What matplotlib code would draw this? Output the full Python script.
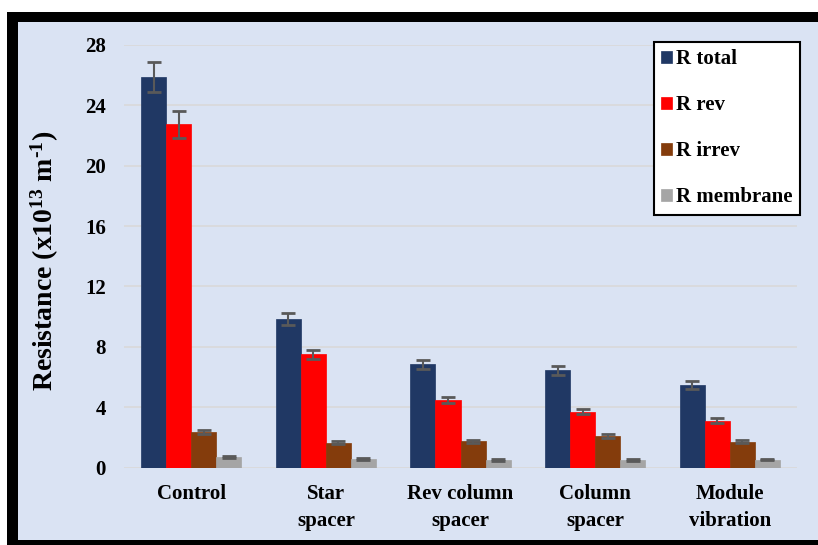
import matplotlib.pyplot as plt
from matplotlib.patches import Rectangle
import numpy as np

categories = ['Control', 'Star\nspacer', 'Rev column\nspacer', 'Column\nspacer', 'Module\nvibration']
series = ['R total', 'R rev', 'R irrev', 'R membrane']
r_total = [25.9, 9.85, 6.85, 6.45, 5.45]
r_rev = [22.75, 7.5, 4.45, 3.7, 3.1]
r_irrev = [2.35, 1.65, 1.75, 2.1, 1.72]
r_membrane = [0.68, 0.55, 0.5, 0.5, 0.53]
err_total = [1.0, 0.42, 0.3, 0.3, 0.26]
err_rev = [0.9, 0.32, 0.2, 0.17, 0.16]
err_irrev = [0.16, 0.1, 0.1, 0.15, 0.12]
err_membrane = [0.05, 0.05, 0.05, 0.05, 0.05]
colors = ['#203864', '#FF0000', '#843C0C', '#A5A5A5']

plt.rcParams['font.family'] = ['Liberation Serif', 'DejaVu Serif']
plt.rcParams['font.weight'] = 'bold'
plt.rcParams['mathtext.fontset'] = 'custom'
plt.rcParams['mathtext.rm'] = 'Liberation Serif:bold'
plt.rcParams['mathtext.bf'] = 'Liberation Serif:bold'
plt.rcParams['mathtext.it'] = 'Liberation Serif:bold'

W, H = 818, 545
fig = plt.figure(figsize=(W / 100, H / 100), dpi=100)
fig.patch.set_facecolor('white')
# black frame and light blue panel (pixel coords -> figure fraction)
fig.patches.append(Rectangle((7 / W, 0), 1 - 7 / W, (H - 12) / H, transform=fig.transFigure,
                             facecolor='black', edgecolor='none', zorder=-2))
fig.patches.append(Rectangle((18 / W, 5 / H), 1 - 18 / W, (H - 22 - 5) / H, transform=fig.transFigure,
                             facecolor='#DAE3F3', edgecolor='none', zorder=-1))

ax = fig.add_axes([124 / W, (H - 467.5) / H, (797 - 124) / W, (467.5 - 45) / H])
ax.set_facecolor('none')
ax.set_zorder(1)

values = [r_total, r_rev, r_irrev, r_membrane]
errs = [err_total, err_rev, err_irrev, err_membrane]
x = np.arange(len(categories))
w = 0.186
for i, (v, e) in enumerate(zip(values, errs)):
    ax.bar(x + (i - 1.5) * w, v, w, color=colors[i], label=series[i], zorder=2,
           edgecolor=colors[i], linewidth=0.5)
    ax.errorbar(x + (i - 1.5) * w, v, yerr=e, fmt='none', ecolor='#595959',
                elinewidth=1.5, capsize=5, capthick=2, zorder=3)

ax.set_xlim(-0.5, 4.5)
ax.set_ylim(0, 28)
ax.set_yticks(np.arange(0, 29, 4))
ax.yaxis.grid(True, color='#D9D9D9', linewidth=1.2, zorder=0)
ax.set_axisbelow(True)
for s in ax.spines.values():
    s.set_visible(False)
ax.tick_params(length=0)
ax.tick_params(axis='y', labelsize=15, pad=13)
ax.tick_params(axis='x', labelsize=15, pad=12)
ax.set_xticks(x)
ax.set_xticklabels(categories, linespacing=1.45)
for lab in ax.get_xticklabels() + ax.get_yticklabels():
    lab.set_fontweight('bold')

fig.text(45 / W, 1 - 261 / H, r'Resistance (x10$^{13}$ m$^{\text{-1}}$)',
         rotation=90, ha='center', va='center', fontsize=20, fontweight='bold')

leg = ax.legend(loc='upper right', bbox_to_anchor=(1.004, 1.007), fontsize=15,
                frameon=True, fancybox=False, edgecolor='black', facecolor='white',
                framealpha=1, handlelength=0.5, handleheight=0.5, labelspacing=1.25,
                borderpad=0.35, handletextpad=0.2, borderaxespad=0.0)
leg.get_frame().set_linewidth(1.5)
for t in leg.get_texts():
    t.set_fontweight('bold')

fig.savefig('out.png', dpi=100)
